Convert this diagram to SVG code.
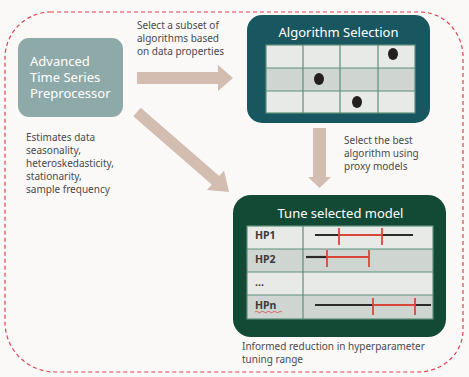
<svg xmlns="http://www.w3.org/2000/svg" width="469" height="377" viewBox="0 0 469 377">
<style>
  .lbl { font-family: "Noto Sans", "Open Sans", sans-serif; font-size: 10px; fill: #4a4a4a; }
  .title { font-family: "Noto Sans", "Open Sans", sans-serif; font-size: 13px; fill: #ffffff; }
  .hp { font-family: "Noto Sans", "Open Sans", sans-serif; font-size: 10.5px; font-weight: bold; fill: #3a3a3a; }
  .arrow { fill: #d3bdb0; }
  .grid { stroke: #5e8f78; stroke-width: 1.2; fill: none; }
  .light { fill: #e8eae8; }
  .dark { fill: #cfd5d1; }
  .blk { stroke: #2b2b2b; stroke-width: 2.2; }
  .red { stroke: #d9473a; stroke-width: 2; }
  .tick { stroke: #d9473a; stroke-width: 1.8; }
</style>
<rect x="0" y="0" width="469" height="377" fill="#fbf9f8"/>
<path d="M50,12 H420 A43,45 0 0 1 463,57 V330 A45,42 0 0 1 418,372 H55 A50,50 0 0 1 5,322 V58 A46,46 0 0 1 50,12 Z" fill="none" stroke="#e04050" stroke-width="1.2" stroke-dasharray="4,3"/>

<g id="connectors">
  <polygon class="arrow" points="137,72 218,72 218,65 233,78 218,91 218,84 137,84"/>
  <polygon class="arrow" transform="translate(137,112) rotate(41)" points="0,-5.7 104,-5.7 104,-13 122,0 104,13 104,5.7 0,5.7"/>
  <polygon class="arrow" points="313,128 326,128 326,177 331,177 319.5,188 308,177 313,177"/>
</g>

<g id="preprocessor">
  <rect x="18" y="38" width="105" height="79" rx="11" fill="#8eaaa8"/>
  <text class="title" x="30" y="66">Advanced</text>
  <text class="title" x="30" y="82">Time Series</text>
  <text class="title" x="30" y="98">Preprocessor</text>
</g>

<g id="label-subset">
  <text class="lbl" x="137" y="29">Select a subset of</text>
  <text class="lbl" x="137" y="42">algorithms based</text>
  <text class="lbl" x="137" y="55">on data properties</text>
</g>

<g id="label-estimates">
  <text class="lbl" x="26" y="141">Estimates data</text>
  <text class="lbl" x="26" y="154">seasonality,</text>
  <text class="lbl" x="26" y="167">heteroskedasticity,</text>
  <text class="lbl" x="26" y="180">stationarity,</text>
  <text class="lbl" x="26" y="193">sample frequency</text>
</g>

<g id="algorithm-selection">
  <rect x="247" y="15" width="183" height="108" rx="15" fill="#195760"/>
  <text class="title" x="338.5" y="37" text-anchor="middle">Algorithm Selection</text>
  <rect class="light" x="266" y="45" width="149" height="23"/>
  <rect class="dark" x="266" y="68" width="149" height="23"/>
  <rect class="light" x="266" y="91" width="149" height="22"/>
  <rect class="grid" x="266" y="45" width="149" height="68"/>
  <path class="grid" d="M266,68 H415 M266,91 H415 M303,45 V113 M340,45 V113 M378,45 V113"/>
  <ellipse cx="393" cy="54" rx="5" ry="6" fill="#231f1f"/>
  <ellipse cx="319" cy="79" rx="5" ry="6" fill="#231f1f"/>
  <ellipse cx="357" cy="102" rx="5" ry="6" fill="#231f1f"/>
</g>

<g id="label-best">
  <text class="lbl" x="344" y="144">Select the best</text>
  <text class="lbl" x="344" y="157">algorithm using</text>
  <text class="lbl" x="344" y="170">proxy models</text>
</g>

<g id="tune-model">
  <rect x="233" y="195" width="213" height="142" rx="18" fill="#134a36"/>
  <text class="title" x="340.5" y="218" text-anchor="middle" font-size="14">Tune selected model</text>
  <rect class="light" x="247" y="226" width="186" height="23"/>
  <rect class="dark" x="247" y="249" width="186" height="23"/>
  <rect class="light" x="247" y="272" width="186" height="23"/>
  <rect class="dark" x="247" y="295" width="186" height="24"/>
  <rect class="grid" x="247" y="226" width="186" height="93"/>
  <path class="grid" d="M247,249 H433 M247,272 H433 M247,295 H433 M303,226 V319"/>
  <text class="hp" x="255" y="239">HP1</text>
  <text class="hp" x="255" y="263">HP2</text>
  <text class="hp" x="255" y="286">...</text>
  <text class="hp" x="255" y="309">HPn</text>
  <path d="M255,312 q1.5,-1.5 3,0 t3,0 t3,0 t3,0 t3,0 t3,0 t3,0 t3,0 t3,0" fill="none" stroke="#e04050" stroke-width="0.8"/>
  <line class="blk" x1="315" y1="235" x2="413" y2="235"/>
  <line class="red" x1="339" y1="235" x2="382" y2="235"/>
  <line class="tick" x1="339" y1="228" x2="339" y2="245"/>
  <line class="tick" x1="382" y1="228" x2="382" y2="245"/>
  <line class="blk" x1="306" y1="257" x2="327" y2="257"/>
  <line class="red" x1="327" y1="257" x2="369" y2="257"/>
  <line class="tick" x1="327" y1="250" x2="327" y2="267"/>
  <line class="tick" x1="369" y1="250" x2="369" y2="267"/>
  <line class="blk" x1="315" y1="305" x2="431" y2="305"/>
  <line class="red" x1="373" y1="305" x2="415" y2="305"/>
  <line class="tick" x1="373" y1="298" x2="373" y2="315"/>
  <line class="tick" x1="415" y1="298" x2="415" y2="315"/>
</g>

<g id="label-informed">
  <text class="lbl" x="242" y="350">Informed reduction in hyperparameter</text>
  <text class="lbl" x="242" y="363">tuning range</text>
</g>
</svg>
